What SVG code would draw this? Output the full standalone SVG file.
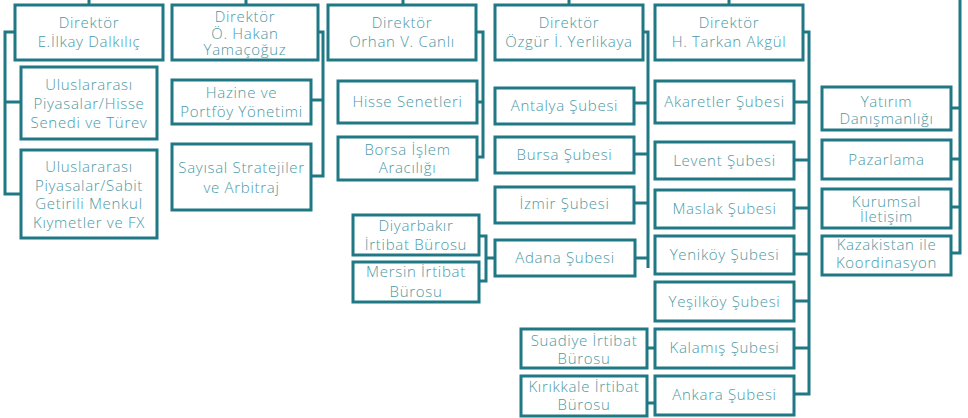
<svg xmlns="http://www.w3.org/2000/svg" width="968" height="418" viewBox="0 0 968 418">
<style>
.b{fill:#fff;stroke:#1f7884;stroke-width:3}
.c{fill:none;stroke:#1f7884;stroke-width:3}
text{font-family:"Open Sans","Noto Sans",sans-serif;font-size:15px;font-weight:300;letter-spacing:0.7px;fill:#4b99a4;text-anchor:middle}
</style>
<rect width="968" height="418" fill="#fff"/>
<g id="connectors" class="c">
<path d="M89,0V5M246,0V5M403,0V5M569,0V5M729,0V5"/>
<path d="M15,32H5V194H21M5,102H21"/>
<path d="M318,32H323V176H311M323,100H311"/>
<path d="M476,32H483V157H477M483,102H477"/>
<path d="M643,32H648V268M634,103H648M634,154H648M634,203H648M635,258H648"/>
<path d="M479,236H486V281H479M486,258H494"/>
<path d="M803,32H809V394H794M794,102H809M794,160H809M794,208H809M794,254H809M794,301H809M794,348H809"/>
<path d="M647,348H655M647,403H655"/>
<path d="M960,0V253H951M960,108H951M960,159H951M960,207H951"/>
</g>
<g id="n1"><rect class="b" x="15" y="5" width="148" height="55"/><text x="89" y="28">Direktör</text><text x="89" y="47">E.İlkay Dalkılıç</text></g>
<g id="n1a"><rect class="b" x="21" y="67" width="136" height="72"/><text x="89" y="90">Uluslararası</text><text x="89" y="109">Piyasalar/Hisse</text><text x="89" y="128">Senedi ve Türev</text></g>
<g id="n1b"><rect class="b" x="21" y="150" width="136" height="88"/><text x="89" y="172">Uluslararası</text><text x="89" y="190.5">Piyasalar/Sabit</text><text x="89" y="209">Getirili Menkul</text><text x="89" y="228">Kıymetler ve FX</text></g>
<g id="n2"><rect class="b" x="172" y="5" width="146" height="55"/><text x="245" y="22">Direktör</text><text x="245" y="38.5">Ö. Hakan</text><text x="245" y="55">Yamaçoğuz</text></g>
<g id="n2a"><rect class="b" x="172" y="80" width="139" height="44"/><text x="241.5" y="98">Hazine ve</text><text x="241.5" y="117">Portföy Yönetimi</text></g>
<g id="n2b"><rect class="b" x="172" y="144" width="139" height="66"/><text x="241.5" y="173">Sayısal Stratejiler</text><text x="241.5" y="193">ve Arbitraj</text></g>
<g id="n3"><rect class="b" x="328" y="5" width="148" height="55"/><text x="402" y="28">Direktör</text><text x="402" y="47">Orhan V. Canlı</text></g>
<g id="n3a"><rect class="b" x="338" y="81" width="139" height="42"/><text x="407.5" y="107">Hisse Senetleri</text></g>
<g id="n3b"><rect class="b" x="338" y="137" width="139" height="43"/><text x="407.5" y="155">Borsa İşlem</text><text x="407.5" y="173">Aracılığı</text></g>
<g id="n4"><rect class="b" x="495" y="5" width="148" height="55"/><text x="569" y="28">Direktör</text><text x="569" y="47">Özgür İ. Yerlikaya</text></g>
<g id="n4a"><rect class="b" x="495" y="88" width="139" height="36"/><text x="564.5" y="111">Antalya Şubesi</text></g>
<g id="n4b"><rect class="b" x="495" y="137" width="139" height="36"/><text x="564.5" y="160">Bursa Şubesi</text></g>
<g id="n4c"><rect class="b" x="495" y="187" width="139" height="36"/><text x="564.5" y="209">İzmir Şubesi</text></g>
<g id="n4d"><rect class="b" x="495" y="240" width="140" height="36"/><text x="565" y="263">Adana Şubesi</text></g>
<g id="n4d1"><rect class="b" x="353" y="215" width="126" height="40"/><text x="416" y="231">Diyarbakır</text><text x="416" y="250">İrtibat Bürosu</text></g>
<g id="n4d2"><rect class="b" x="353" y="262" width="126" height="40"/><text x="416" y="277">Mersin İrtibat</text><text x="416" y="297">Bürosu</text></g>
<g id="n5"><rect class="b" x="655" y="5" width="148" height="55"/><text x="729" y="28">Direktör</text><text x="729" y="47">H. Tarkan Akgül</text></g>
<g id="n5a"><rect class="b" x="655" y="81" width="139" height="42"/><text x="724.5" y="107">Akaretler Şubesi</text></g>
<g id="n5b"><rect class="b" x="655" y="142" width="139" height="37"/><text x="724.5" y="166">Levent Şubesi</text></g>
<g id="n5c"><rect class="b" x="655" y="190" width="139" height="38"/><text x="724.5" y="214">Maslak Şubesi</text></g>
<g id="n5d"><rect class="b" x="655" y="236" width="139" height="38"/><text x="724.5" y="260">Yeniköy Şubesi</text></g>
<g id="n5e"><rect class="b" x="655" y="282" width="139" height="39"/><text x="724.5" y="307">Yeşilköy Şubesi</text></g>
<g id="n5f"><rect class="b" x="655" y="329" width="139" height="39"/><text x="724.5" y="353">Kalamış Şubesi</text></g>
<g id="n5g"><rect class="b" x="655" y="376" width="139" height="39"/><text x="724.5" y="400">Ankara Şubesi</text></g>
<g id="n5f1"><rect class="b" x="521" y="329" width="126" height="39"/><text x="584" y="346">Suadiye İrtibat</text><text x="584" y="364">Bürosu</text></g>
<g id="n5g1"><rect class="b" x="521" y="376" width="126" height="40"/><text x="584" y="392">Kırıkkale İrtibat</text><text x="584" y="410">Bürosu</text></g>
<g id="n6a"><rect class="b" x="822" y="87" width="129" height="43"/><text x="886.5" y="107">Yatırım</text><text x="886.5" y="124">Danışmanlığı</text></g>
<g id="n6b"><rect class="b" x="822" y="140" width="129" height="39"/><text x="886.5" y="165">Pazarlama</text></g>
<g id="n6c"><rect class="b" x="822" y="189" width="129" height="39"/><text x="886.5" y="207">Kurumsal</text><text x="886.5" y="222">İletişim</text></g>
<g id="n6d"><rect class="b" x="822" y="236" width="129" height="39"/><text x="886.5" y="250">Kazakistan ile</text><text x="886.5" y="268">Koordinasyon</text></g>
</svg>
